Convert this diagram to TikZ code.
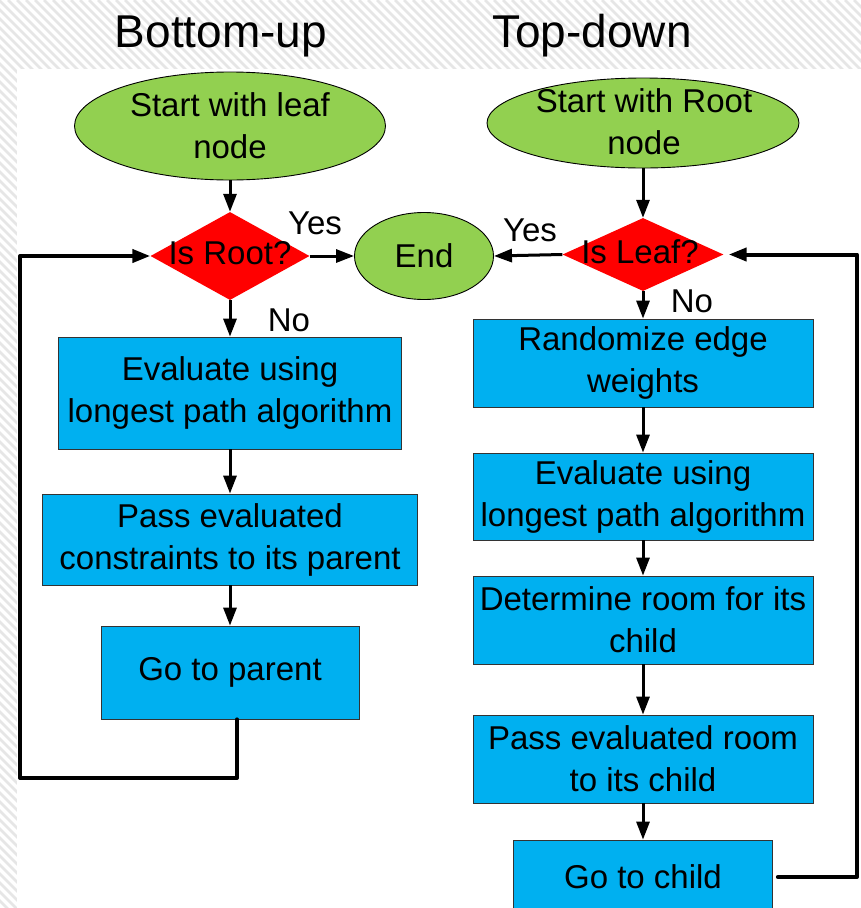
\documentclass[tikz,border=0pt]{standalone}
\usepackage{fontspec}
\setmainfont{Liberation Sans}
\usetikzlibrary{shapes.geometric,arrows.meta}
\definecolor{leafgreen}{HTML}{92D050}
\definecolor{stepblue}{HTML}{00B0F0}
\definecolor{hatchgray}{HTML}{E6E6E6}

\begin{document}
\begin{tikzpicture}[x=1pt,y=-1pt,
  txt/.style={font=\fontsize{33}{42}\selectfont, align=center, inner sep=0pt},
  heading/.style={font=\fontsize{46}{50}\selectfont, inner sep=0pt, anchor=base},
  terminal/.style={ellipse, draw=black, line width=0.9pt, fill=leafgreen, inner sep=0pt},
  decision/.style={diamond, fill=red, inner sep=0pt},
  stepbox/.style={rectangle, draw=black!80, line width=0.8pt, fill=stepblue,
    inner sep=0pt, align=center, font=\fontsize{33}{42}\selectfont},
  flow/.style={line width=3pt, -{Triangle[length=18pt,width=13pt]}},
  loopback/.style={line width=4pt, line cap=round, line join=round,
    -{Triangle[length=18pt,width=13pt]}},
]
\useasboundingbox (0,0) rectangle (861,908);

% hatched page background with a white drawing area
\begin{scope}
  \clip (0,0) rectangle (861,908);
  \fill[white] (0,0) rectangle (861,908);
  \foreach \i in {-928,-919,...,870}
    \draw[hatchgray, line width=2.6pt] (\i,0) -- ++(930,930);
  \fill[white] (17,69) rectangle (861,908);
\end{scope}

% column headings
\node[heading] (hbu) at (221,47) {Bottom-up};
\node[heading] (htd) at (592,47) {Top-down};

% ---------------- bottom-up column ----------------
\node[terminal, minimum width=311pt, minimum height=108pt] (sleaf) at (230,126) {};
\node[txt] (sleaftxt) at (sleaf.center) {Start with leaf\\node};
\node[decision, minimum width=159pt, minimum height=88pt] (isroot) at (230,256) {};
\node[txt] (isroottxt) at (230,253) {Is Root?};
\node[terminal, minimum width=139pt, minimum height=87pt] (end) at (424,256) {};
\node[txt] (endtxt) at (end.center) {End};
\node[stepbox, minimum width=343pt, minimum height=112pt] (evalL) at (230,393)
  {Evaluate using\\longest path algorithm};
\node[stepbox, minimum width=375pt, minimum height=91pt] (passL) at (230,539.5)
  {Pass evaluated\\constraints to its parent};
\node[stepbox, minimum width=258pt, minimum height=93pt] (gp) at (230,672.5)
  {Go to parent};

\draw[flow] (sleaf.south) -- (isroot.north);
\draw[flow] (isroot.east) -- (end.west);
\draw[flow] (isroot.south) -- (evalL.north);
\draw[flow] (evalL.south) -- (passL.north);
\draw[flow] (passL.south) -- (gp.north);

\node[txt] (yesL) at (315,223) {Yes};
\node[txt] (noL) at (289,320) {No};

\coordinate (lb) at (20,778);
\draw[loopback] ([xshift=7pt]gp.south) |- (lb) |- (isroot.west);

% ---------------- top-down column ----------------
\node[terminal, minimum width=312pt, minimum height=90pt] (sroot) at (643,123) {};
\node[txt] (sroottxt) at (644,122) {Start with Root\\node};
\node[decision, minimum width=161pt, minimum height=73pt] (isleaf) at (643,254.5) {};
\node[txt] (isleaftxt) at (640,252) {Is Leaf?};
\node[stepbox, minimum width=340pt, minimum height=88pt] (rand) at (643,363)
  {Randomize edge\\weights};
\node[stepbox, minimum width=340pt, minimum height=87pt] (evalR) at (643,496.5)
  {Evaluate using\\longest path algorithm};
\node[stepbox, minimum width=340pt, minimum height=88pt] (room) at (643,620)
  {Determine room for its\\child};
\node[stepbox, minimum width=340pt, minimum height=88pt] (passR) at (643,759)
  {Pass evaluated room\\to its child};
\node[stepbox, minimum width=259pt, minimum height=74pt] (gc) at (643,877)
  {Go to child};

\draw[flow] (sroot.south) -- (isleaf.north);
\draw[flow] (isleaf.west) -- (end.east);
\draw[flow] (isleaf.south) -- (rand.north);
\draw[flow] (rand.south) -- (evalR.north);
\draw[flow] (evalR.south) -- (room.north);
\draw[flow] (room.south) -- (passR.north);
\draw[flow] (passR.south) -- (gc.north);

\node[txt] (yesR) at (530,230) {Yes};
\node[txt] (noR) at (692,301) {No};

\coordinate (rb) at (857,877);
\draw[loopback, shorten >=5pt] ([xshift=5pt]gc.east) -- (rb) |- (isleaf.east);
\end{tikzpicture}
\end{document}
